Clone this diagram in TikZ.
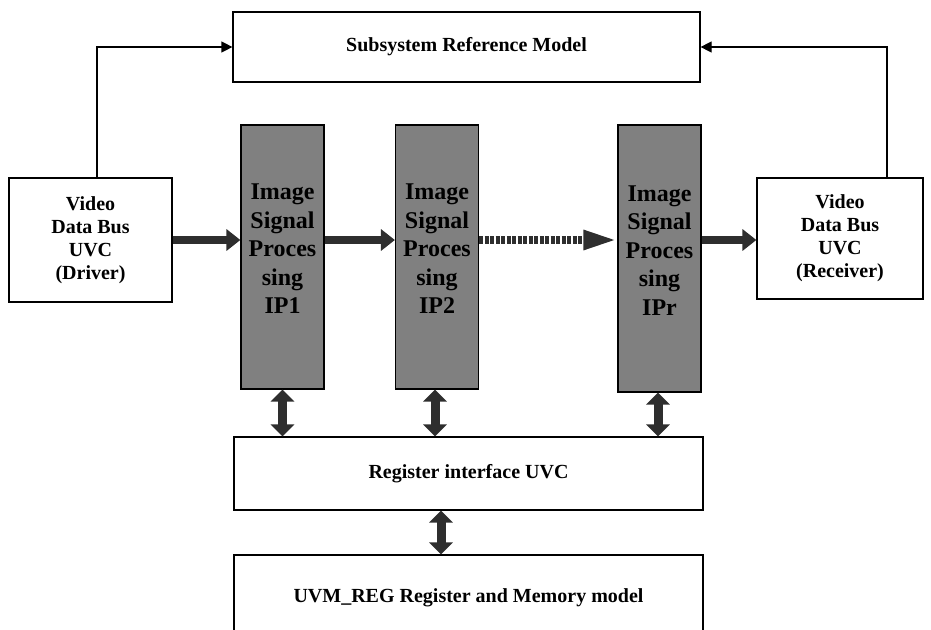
\documentclass[tikz,border=0pt]{standalone}
\usepackage{fontspec}
\setmainfont{Liberation Serif}
\usetikzlibrary{arrows.meta}

\definecolor{ipgray}{HTML}{808080}
\definecolor{arrowgray}{HTML}{2E2E2E}

\tikzset{
  box/.style={draw,line width=1.2pt,fill=white,inner sep=0pt,align=center,
    font=\fontsize{20}{23}\selectfont\bfseries},
  ipbox/.style={draw,line width=1.2pt,fill=ipgray,inner sep=0pt,align=center,text depth=16pt,
    minimum width=83pt,minimum height=264pt,font=\fontsize{24}{28.5}\selectfont\bfseries},
  fat/.style={arrowgray,line width=8pt,-{Triangle[length=14pt,width=21pt]}},
  fatdash/.style={arrowgray,line width=8pt,dash pattern=on 4pt off 1.5pt,
    -{Triangle[length=34pt,width=18pt]}},
  dbl/.style={arrowgray,line width=9pt,
    {Triangle[length=12pt,width=23pt]}-{Triangle[length=12pt,width=23pt]}},
  fb/.style={line width=1.2pt,-{Triangle[length=11pt,width=11pt]}}
}

\begin{document}
\begin{tikzpicture}[x=1pt,y=-1pt]
    \useasboundingbox (0,0) rectangle (931,629);
    \node [box,minimum width=467pt,minimum height=70pt] (ref) at (466.5,47) {Subsystem Reference Model};
    \node [box,minimum width=163pt,minimum height=124pt] (drv) at (90.5,240) {Video\\Data Bus\\UVC\\(Driver)};
    \node [box,minimum width=166pt,minimum height=121pt] (rcv) at (840,238.5) {Video\\Data Bus\\UVC\\(Receiver)};
    \node [ipbox] (ip1) at (282.5,257) {Image\\Signal\\Proces\\sing\\IP1};
    \node [ipbox] (ip2) at (437,257) {Image\\Signal\\Proces\\sing\\IP2};
    \node [ipbox,minimum height=267pt] (ipr) at (659.5,258.5) {Image\\Signal\\Proces\\sing\\IPr};
    \node [box,minimum width=469pt,minimum height=73pt] (reg) at (468.5,473.5) {Register interface UVC};
    \node [box,minimum width=469pt,minimum height=85pt] (mem) at (468.5,597.5) {UVM\_REG Register and Memory model};
    % feedback to the reference model
    \draw [fb] ([xshift=6.5pt]drv.north) |- (ref.west);
    \draw [fb] ([xshift=47pt]rcv.north) |- (ref.east);
    % data path
    \draw [fat] (drv.east) -- (drv.east -| ip1.west);
    \draw [fat] (ip1.east |- drv.east) -- (ip2.west |- drv.east);
    \draw [fatdash] (ip2.east |- drv.east) -- (ipr.west |- drv.east);
    \draw [fat] (ipr.east |- drv.east) -- (rcv.west |- drv.east);
    % register access
    \draw [dbl] (ip1.south) -- (ip1.south |- reg.north);
    \draw [dbl] ([xshift=-2pt]ip2.south) -- ([xshift=-2pt]ip2.south |- reg.north);
    \draw [dbl] ([xshift=-1.5pt]ipr.south) -- ([xshift=-1.5pt]ipr.south |- reg.north);
    \draw [dbl] ([xshift=-27.5pt]reg.south) -- ([xshift=-27.5pt]reg.south |- mem.north);
\end{tikzpicture}
\end{document}
